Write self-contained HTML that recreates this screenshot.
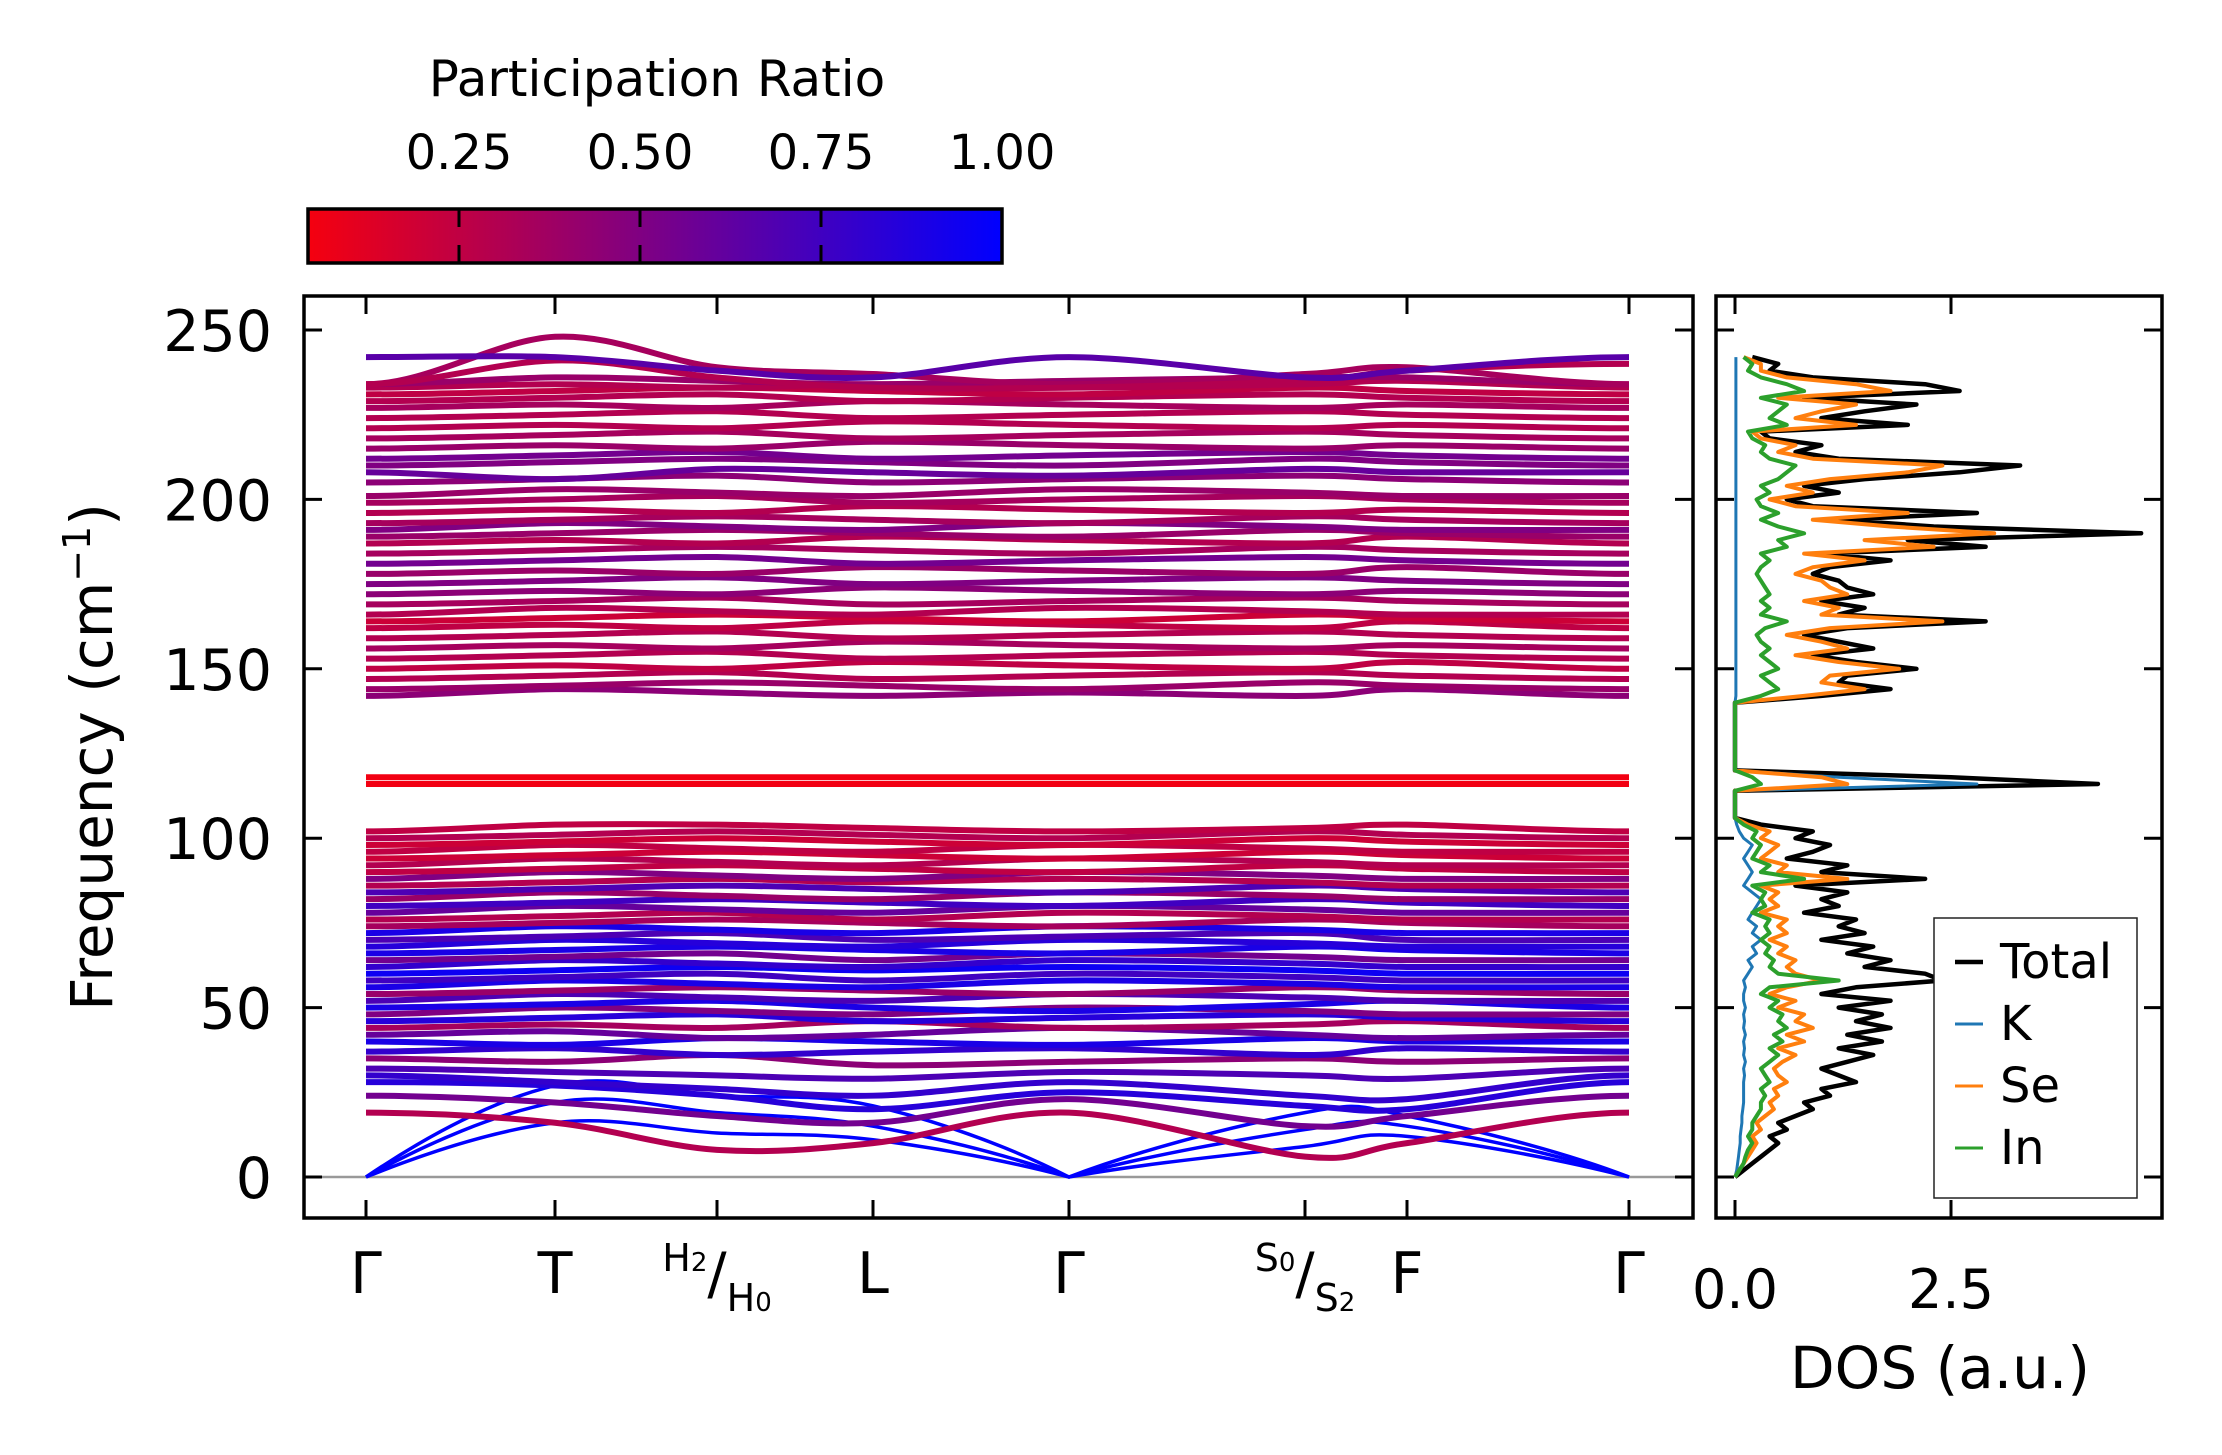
<!DOCTYPE html>
<html><head><meta charset="utf-8"><style>
html,body{margin:0;padding:0;background:#fff}
svg{display:block;font-family:"DejaVu Sans","Liberation Sans",sans-serif}
</style></head><body>
<svg id="fig" width="2222" height="1455" viewBox="0 0 2222 1455" xmlns="http://www.w3.org/2000/svg">
<defs>
<linearGradient id="cbgrad" x1="0" x2="1" y1="0" y2="0">
<stop offset="0" stop-color="rgb(245,0,15)"/><stop offset="1" stop-color="rgb(0,0,255)"/>
</linearGradient>
<clipPath id="mainclip"><rect x="304" y="296" width="1389" height="922"/></clipPath>
<clipPath id="dosclip"><rect x="1717" y="296" width="444" height="922"/></clipPath>
</defs>
<g>
<text x="657" y="96" font-size="50" text-anchor="middle">Participation Ratio</text>
<rect x="308" y="209" width="694" height="54" fill="url(#cbgrad)" stroke="#000" stroke-width="3.5"/>
<g id="cbticks"></g>
</g>
<g id="main">
<line x1="304" x2="1693" y1="1177" y2="1177" stroke="#999" stroke-width="2.5"/>
<g id="bands" clip-path="url(#mainclip)"></g>
<rect x="304" y="296" width="1389" height="922" fill="none" stroke="#000" stroke-width="3.5"/>
<g id="mainticks"></g>
<text transform="translate(112,757) rotate(-90)" font-size="58" text-anchor="middle">Frequency (cm<tspan font-size="38" dy="-22">−1</tspan><tspan dy="22">)</tspan></text>
</g>
<g id="dos">
<g id="doslines" clip-path="url(#dosclip)"></g>
<rect x="1716" y="296" width="446" height="922" fill="none" stroke="#000" stroke-width="3.5"/>
<g id="dosticks"></g>
<text x="1940" y="1388" font-size="58" text-anchor="middle">DOS (a.u.)</text>
<g>
<rect x="1934" y="918" width="203" height="280" fill="#fff" stroke="#222" stroke-width="1.5"/>
<g id="legend"></g>
</g>
</g>
</svg>
<script>
const NS="http://www.w3.org/2000/svg";
// ---- data ----
const kLabels=["Γ","T","H2/H0","L","Γ","S0/S2","F","Γ"];
const yTicks=[0,50,100,150,200,250];
const cbTicks=[0.25,0.5,0.75,1.0];
const cbTickLabels=["0.25","0.50","0.75","1.00"];
const dosTicks=[0,2.5];
const dosTickLabels=["0.0","2.5"];
// band frequencies at the 8 high-symmetry points
const bandFreqs=[
[0,16,13,11,0,9,12,0],[0,22,19,15,0,14,15,0],[0,27,24,21,0,19,18,0],
[19,16,8,10,19,6,10,19],[24,22,18,16,23,15,18,24],[28,27,24,20,25,21,20,28],[30,28,26,24,28,24,23,30],
[32,31,30,29,31,30,29,32],[35,34,36,33,34,35,34,35],[37,38,36,37,38,36,38,37],[40,39,41,40,39,41,40,40],
[42,43,41,42,44,42,41,42],[44,45,44,46,44,45,46,44],[46,47,48,46,47,48,47,46],[48,50,49,48,50,49,48,48],
[50,51,52,50,49,51,52,50],[52,54,53,52,54,53,52,52],[54,55,56,55,54,56,55,54],[56,58,57,56,58,57,56,56],
[58,59,60,58,60,59,58,58],[60,61,62,61,62,61,60,60],[62,64,63,62,64,63,62,62],[64,65,66,64,66,65,64,64],
[66,67,68,67,66,68,67,66],[68,70,69,68,70,69,68,68],[70,71,72,70,71,72,70,70],[72,74,73,72,74,73,72,72],
[74,75,76,75,74,76,75,74],[76,77,78,76,78,77,76,76],[78,80,79,78,80,79,78,78],[80,81,82,81,80,82,81,80],
[82,84,83,82,84,83,82,82],[84,85,86,85,84,86,85,84],[86,87,88,87,88,87,86,86],[88,90,89,88,90,89,88,88],
[90,91,92,91,90,92,91,90],[92,94,93,92,94,93,92,92],[94,95,96,95,94,96,95,94],[96,98,97,96,98,97,96,96],
[98,99,100,99,98,100,99,98],[100,101,102,101,100,102,101,100],[102,104,104,103,102,103,104,102],
[116,116,116,116,116,116,116,116],[118,118,118,118,118,118,118,118],
[142,144,143,142,143,142,144,142],[144,145,146,145,144,146,145,144],[147,148,149,147,148,149,148,147],
[150,151,150,152,151,150,152,150],[153,154,155,153,154,155,154,153],[156,157,156,158,157,156,157,156],
[159,160,161,159,160,161,160,159],[162,163,162,164,163,162,164,162],[164,165,166,165,164,166,165,164],
[166,168,167,166,168,167,166,166],[169,170,171,169,170,171,170,169],[172,173,172,174,173,172,173,172],
[175,176,177,175,176,177,176,175],[178,179,178,180,179,178,180,178],[181,182,183,181,182,183,182,181],
[184,185,186,185,184,186,185,184],[187,188,187,189,188,187,189,187],[189,190,191,190,189,191,190,189],
[191,193,192,191,193,192,191,191],[193,194,195,194,193,195,194,193],[196,197,196,198,197,196,197,196],
[199,200,201,199,200,201,200,199],[201,203,202,201,203,202,201,201],[205,206,207,205,206,207,206,205],
[208,206,209,208,207,209,208,208],[210,211,212,211,210,212,211,210],[212,213,214,212,213,214,213,212],
[215,216,215,217,216,215,216,215],[218,219,220,218,219,220,219,218],[221,222,221,223,222,221,222,221],
[224,225,226,224,225,226,225,224],[227,228,227,229,228,227,228,227],[229,230,231,229,230,231,230,229],
[231,232,233,232,231,233,232,231],[233,234,233,234,233,234,235,233],[234,236,235,234,235,236,236,234],
[234,248,239,237,234,237,239,234],[234,241,236,233,233,235,238,240],[242,242,238,236,242,236,238,242]
];
// participation ratio per band
const bandPR=[1,1,1,0.3,0.55,0.85,0.8,
0.7,0.45,0.8,0.9,0.6,0.35,0.85,0.5,0.9,0.7,0.4,0.9,0.75,0.95,0.8,0.55,0.9,0.85,0.7,0.9,0.35,0.3,0.6,0.75,0.4,0.7,0.3,0.5,0.25,0.3,0.2,0.25,0.2,0.3,0.25,
0.05,0.05,
0.45,0.4,0.3,0.25,0.3,0.35,0.3,0.25,0.2,0.3,0.35,0.45,0.5,0.4,0.55,0.35,0.3,0.4,0.5,0.35,0.3,0.35,0.4,0.45,0.6,0.5,0.55,0.4,0.35,0.3,0.3,0.35,0.3,0.25,0.3,0.4,0.35,0.3,0.65];
// DOS: frequency grid 0..242 step 2
const dosFreq=[];for(let f=0;f<=242;f+=2)dosFreq.push(f);
const dosTotal=[0,0.1,0.2,0.3,0.4,0.5,0.4,0.6,0.5,0.7,0.9,0.8,1.1,1.0,1.4,1.2,1.0,1.3,1.6,1.2,1.7,1.3,1.8,1.4,1.7,1.2,1.8,1.0,1.4,2.4,2.2,1.5,1.8,1.3,1.6,1.0,1.5,1.2,1.4,0.8,1.2,1.0,1.3,0.7,2.2,1.0,1.3,0.6,0.9,1.1,0.7,0.9,0.3,
0,0,0,0,0, 4.2,2.5, 0,0,0,0,0,0,0,0,0,0,0,
1.0,1.8,1.2,1.3,2.1,1.4,0.9,1.6,1.2,0.8,1.3,2.9,1.2,1.5,1.0,1.6,1.3,1.2,0.9,1.1,1.8,1.0,2.9,2.0,4.7,2.3,1.2,2.8,0.9,0.6,1.2,0.8,1.5,2.6,3.3,1.2,0.7,1.0,0.4,0.3,2.0,1.0,1.5,2.1,0.8,2.6,2.2,0.9,0.4,0.5,0.2];
const dosK=[0,0.02,0.03,0.04,0.05,0.06,0.06,0.07,0.08,0.08,0.09,0.1,0.1,0.1,0.1,0.11,0.1,0.12,0.1,0.11,0.1,0.12,0.1,0.11,0.1,0.12,0.1,0.1,0.12,0.1,0.15,0.2,0.15,0.25,0.2,0.3,0.2,0.25,0.15,0.2,0.25,0.3,0.2,0.1,0.15,0.2,0.15,0.1,0.15,0.2,0.1,0.05,0.02,
0,0,0,0,0, 2.8,1.2, 0,0,0,0,0,0,0,0,0,0,0,
0.01,0.01,0.01,0.01,0.01,0.01,0.01,0.01,0.01,0.01,0.01,0.01,0.01,0.01,0.01,0.01,0.01,0.01,0.01,0.01,0.01,0.01,0.01,0.01,0.01,0.01,0.01,0.01,0.01,0.01,0.01,0.01,0.01,0.01,0.01,0.01,0.01,0.01,0.01,0.01,0.01,0.01,0.01,0.01,0.01,0.01,0.01,0.01,0.01,0.01,0.01];
const dosSe=[0,0.05,0.1,0.15,0.2,0.25,0.2,0.3,0.25,0.35,0.45,0.4,0.5,0.45,0.6,0.5,0.45,0.55,0.7,0.5,0.8,0.6,0.9,0.7,0.8,0.5,0.7,0.4,0.6,1.0,0.7,0.6,0.7,0.5,0.6,0.4,0.6,0.5,0.6,0.3,0.5,0.4,0.5,0.3,1.3,0.5,0.6,0.3,0.4,0.5,0.3,0.4,0.15,
0,0,0,0,0, 1.3,1.0, 0,0,0,0,0,0,0,0,0,0,0,
0.8,1.5,1.0,1.1,1.9,1.2,0.7,1.3,1.0,0.6,1.1,2.4,1.0,1.2,0.8,1.3,1.1,1.0,0.7,0.9,1.5,0.8,2.3,1.5,3.0,1.8,0.9,2.0,0.7,0.4,0.9,0.6,1.1,2.0,2.4,0.9,0.5,0.7,0.3,0.2,1.4,0.7,1.0,1.4,0.5,1.8,1.4,0.6,0.3,0.3,0.1];
const dosIn=[0,0.05,0.1,0.12,0.15,0.2,0.15,0.2,0.2,0.25,0.3,0.3,0.35,0.3,0.4,0.35,0.3,0.4,0.5,0.4,0.55,0.45,0.6,0.5,0.55,0.4,0.5,0.3,0.4,1.2,0.5,0.4,0.45,0.35,0.4,0.3,0.4,0.35,0.4,0.2,0.35,0.3,0.35,0.2,0.8,0.3,0.4,0.2,0.25,0.3,0.2,0.25,0.1,
0,0,0,0,0, 0.3,0.2, 0,0,0,0,0,0,0,0,0,0,0,
0.3,0.5,0.4,0.3,0.5,0.4,0.3,0.4,0.3,0.25,0.35,0.6,0.3,0.4,0.3,0.4,0.35,0.3,0.25,0.3,0.4,0.3,0.6,0.5,0.8,0.5,0.3,0.5,0.3,0.25,0.4,0.3,0.5,0.6,0.7,0.4,0.3,0.35,0.2,0.15,0.6,0.4,0.5,0.6,0.3,0.8,0.6,0.3,0.15,0.2,0.1];
// ---- scales ----
const kX=[366,555,717,873,1069,1305,1407,1629];
function fy(f){return 1177-f*(847/250);}
function dx(d){return 1735+d*86.4;}
function cbx(v){return 1002-(1-v)*(181/0.25);}
function prColor(p){const t=Math.max(0,Math.min(1,(p-0.04)/0.96));return `rgb(${Math.round(245*(1-t))},0,${Math.round(15+240*t)})`;}
function mk(tag,attrs,parent){const e=document.createElementNS(NS,tag);for(const k in attrs)e.setAttribute(k,attrs[k]);parent.appendChild(e);return e;}
// ---- colorbar ticks ----
const cbt=document.getElementById('cbticks');
cbTicks.forEach((v,i)=>{const x=cbx(v);
 if(v<1){const l=mk('line',{x1:x,x2:x,y1:209,y2:263,stroke:'#000','stroke-width':3,'stroke-dasharray':'18 18'},cbt);
 
 }
 const t=mk('text',{x:x,y:169,'font-size':48,'text-anchor':'middle'},cbt);t.textContent=cbTickLabels[i];
 
 
});
// ---- bands ----
const bg=document.getElementById('bands');
bandFreqs.forEach((b,bi)=>{
 const pts=b.map((f,i)=>[kX[i],fy(f)]);
 let d=`M${pts[0][0]},${pts[0][1]}`;
 for(let i=0;i<pts.length-1;i++){
  const p0=pts[i],p1=pts[i+1];
  const pm=pts[i-1]||p0,p2=pts[i+2]||p1;
  let t0=[(p1[0]-pm[0])/6,(p1[1]-pm[1])/6],t1=[(p2[0]-p0[0])/6,(p2[1]-p0[1])/6];
  if(b[i]===0||i===0||i===pts.length-1) t0=[(p1[0]-p0[0])/3,(p1[1]-p0[1])/3*(b[i]===0?1.4:0)];
  if(b[i+1]===0||i+1===pts.length-1) t1=[(p1[0]-p0[0])/3,(p1[1]-p0[1])/3*(b[i+1]===0?1.4:0)];
  d+=` C${p0[0]+t0[0]},${p0[1]+t0[1]} ${p1[0]-t1[0]},${p1[1]-t1[1]} ${p1[0]},${p1[1]}`;
 }
 const p=mk('path',{d:d,fill:'none',stroke:prColor(bandPR[bi]),'stroke-width':b[0]===0?3.5:6},bg);
 
 
});
// ---- main axes ticks ----
const mt=document.getElementById('mainticks');
yTicks.forEach(v=>{const y=fy(v);
 mk('line',{x1:304,x2:322,y1:y,y2:y,stroke:'#000','stroke-width':3},mt);
 mk('line',{x1:1675,x2:1693,y1:y,y2:y,stroke:'#000','stroke-width':3},mt);
 const t=mk('text',{x:272,y:y+21,'font-size':57,'text-anchor':'end'},mt);t.textContent=v;
 
 
 mk('line',{x1:1716,x2:1734,y1:y,y2:y,stroke:'#000','stroke-width':3},mt);
 mk('line',{x1:2144,x2:2162,y1:y,y2:y,stroke:'#000','stroke-width':3},mt);
});
kX.forEach((x,i)=>{
 mk('line',{x1:x,x2:x,y1:1200,y2:1218,stroke:'#000','stroke-width':3},mt);
 mk('line',{x1:x,x2:x,y1:296,y2:314,stroke:'#000','stroke-width':3},mt);
 const lab=kLabels[i];let t;
 if(lab.includes('/')){
  const [a,b]=lab.split('/');
  t=mk('text',{x:x,y:1293,'font-size':57,'text-anchor':'middle'},mt);
  t.innerHTML=`<tspan font-size="38" dy="-22">${a[0]}<tspan font-size="26">${a[1]}</tspan></tspan><tspan dy="22">/</tspan><tspan font-size="38" dy="18">${b[0]}<tspan font-size="26">${b[1]}</tspan></tspan>`;
 } else {t=mk('text',{x:x,y:1293,'font-size':57,'text-anchor':'middle'},mt);t.textContent=lab;}
 
 
});
// ---- DOS ----
const dl=document.getElementById('doslines');
const series=[[dosTotal,'#000',4.5,'dos-total'],[dosK,'#1f77b4',3,'dos-k'],[dosSe,'#ff7f0e',4,'dos-se'],[dosIn,'#2ca02c',4,'dos-in']];
series.forEach(([vals,col,w,name])=>{
 const pts=vals.map((v,i)=>`${dx(v).toFixed(1)},${fy(dosFreq[i]).toFixed(1)}`).join(' ');
 const pl=mk('polyline',{points:pts,fill:'none',stroke:col,'stroke-width':w,'stroke-linejoin':'round'},dl);
 
 
});
const dt=document.getElementById('dosticks');
dosTicks.forEach((v,i)=>{const x=dx(v);
 mk('line',{x1:x,x2:x,y1:1200,y2:1218,stroke:'#000','stroke-width':3},dt);
 mk('line',{x1:x,x2:x,y1:296,y2:314,stroke:'#000','stroke-width':3},dt);
 const t=mk('text',{x:x,y:1308,'font-size':54,'text-anchor':'middle'},dt);t.textContent=dosTickLabels[i];
 
 
});
// ---- legend ----
const lg=document.getElementById('legend');
[['Total','#000'],['K','#1f77b4'],['Se','#ff7f0e'],['In','#2ca02c']].forEach(([n,c],i)=>{
 const y=962+i*62;
 mk('line',{x1:1955,x2:1983,y1:y,y2:y,stroke:c,'stroke-width':n==='Total'?4.5:3},lg);
 const t=mk('text',{x:2000,y:y+16,'font-size':48},lg);t.textContent=n;
 
 
});
</script>
</body></html>
